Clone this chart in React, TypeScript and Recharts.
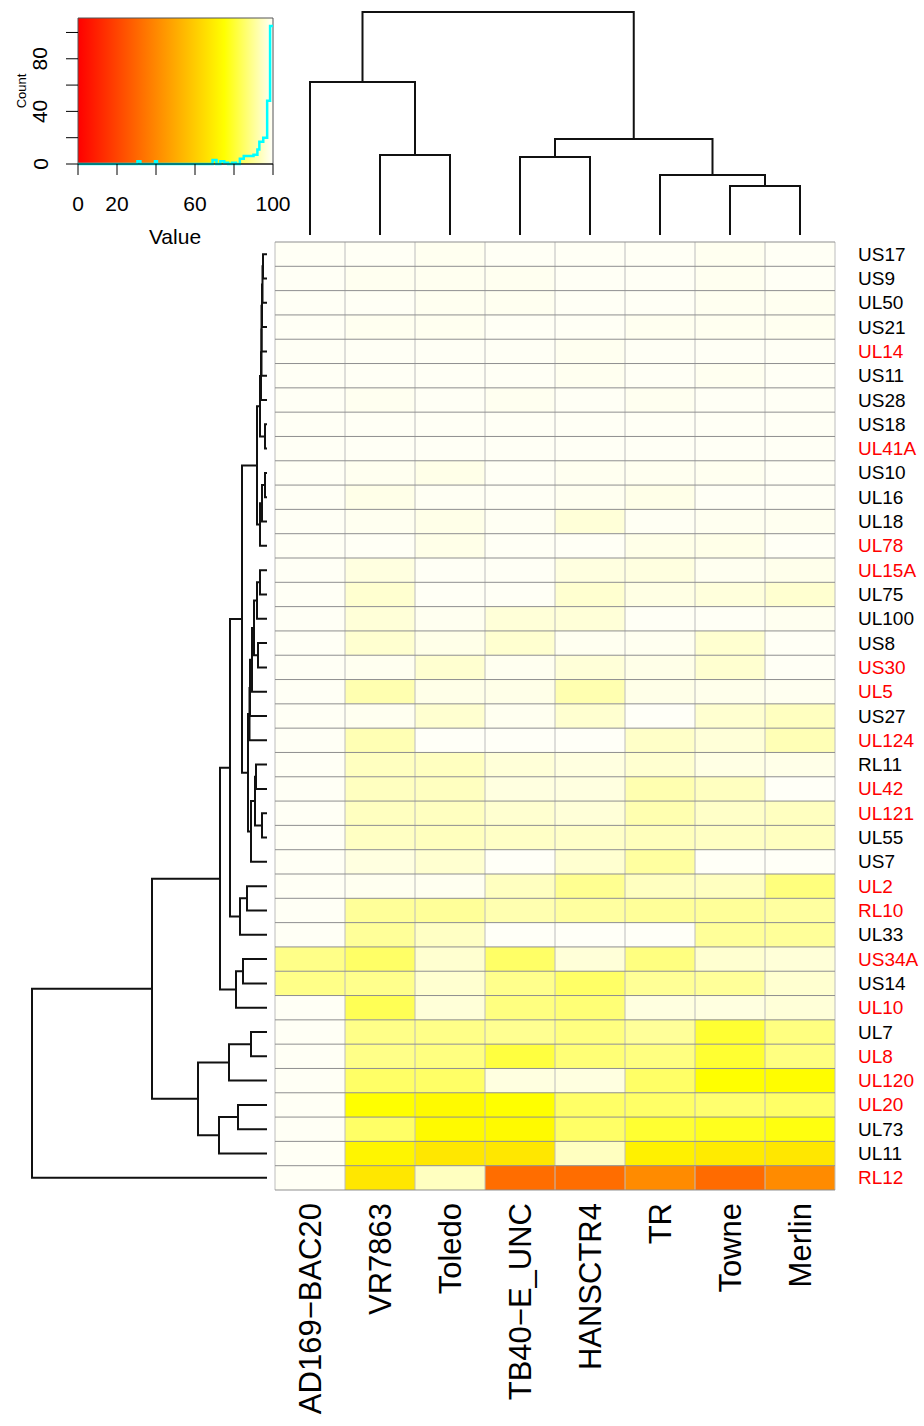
import React from 'react'
import { LineChart, ComposedChart, Line, Scatter, XAxis, YAxis, ReferenceArea, ReferenceLine, Label } from 'recharts'

const FONT = '"Liberation Sans", Arial, Helvetica, sans-serif'

// columns (strains), in dendrogram order
const colNames = ['AD169−BAC20', 'VR7863', 'Toledo', 'TB40−E_UNC', 'HANSCTR4', 'TR', 'Towne', 'Merlin']

// rows (genes), top to bottom
const rowNames = ['US17', 'US9', 'UL50', 'US21', 'UL14', 'US11', 'US28', 'US18', 'UL41A', 'US10', 'UL16', 'UL18', 'UL78',
  'UL15A', 'UL75', 'UL100', 'US8', 'US30', 'UL5', 'US27', 'UL124', 'RL11', 'UL42', 'UL121', 'UL55', 'US7',
  'UL2', 'RL10', 'UL33', 'US34A', 'US14', 'UL10', 'UL7', 'UL8', 'UL120', 'UL20', 'UL73', 'UL11', 'RL12']
const rowRed = [0, 0, 0, 0, 1, 0, 0, 0, 1, 0, 0, 0, 1, 1, 0, 0, 0, 1, 1, 0, 1, 0, 1, 1, 0, 0, 1, 1, 0, 1, 0, 1, 0, 1, 1, 1, 0, 0, 1]

// cell values per strain (0-100), one per row
const ad169 = [99.5, 99.5, 99.5, 99.5, 99.5, 99.5, 99.5, 99.5, 99.5, 99.5, 99.5, 99.5, 99.5, 99.5, 99.5, 99.5, 99.5, 99.5, 99.5, 99.5,
  99.5, 99.5, 99.5, 99.5, 99.5, 99.5, 99.5, 99.5, 99.5, 88.6, 88.6, 99.5, 99.5, 99.5, 99.5, 99.5, 99.5, 99.5, 99.5]
const vr7863 = [99.5, 99, 99.5, 99, 99.5, 99.5, 99, 99.5, 99.5, 99, 98.2, 99, 99.5, 97.4, 95.8, 96.6, 95.8, 99, 92.6, 99,
  93, 94.2, 94.2, 94.2, 94.5, 97.4, 99, 90.3, 90.3, 85.2, 89, 83.5, 88.6, 88.6, 85.2, 75, 85.2, 72, 68]
const toledo = [99, 99, 99, 99, 99.5, 99.5, 99.5, 99.5, 99.5, 98.2, 99.3, 98.2, 98.2, 99.5, 99.5, 99, 98.2, 95.8, 98.2, 95.8,
  99.7, 94.2, 94.2, 94.2, 94, 95.8, 99, 90.3, 94.6, 95.8, 95.8, 96.6, 88.6, 87.8, 85.2, 73.5, 73.5, 68, 94.2]
const tb40 = [99.5, 99, 99, 99.5, 99.5, 99.5, 99, 99.5, 99.5, 99.5, 99.5, 99.3, 99.5, 99.5, 99.5, 96.6, 95.8, 99, 98.2, 99,
  99.7, 96.6, 97.4, 95.8, 94.8, 99.7, 94.2, 92.6, 99.7, 85.2, 89, 87.8, 89.5, 81.4, 97.4, 75, 73.5, 68, 32]
const hansctr4 = [99.5, 99.5, 99.5, 99.5, 99, 99, 99.5, 99.5, 99.5, 99, 99, 96.6, 99.5, 97.4, 95.8, 96.6, 99, 96.6, 92.6, 95.8,
  99.7, 97.4, 97.4, 96.6, 95, 95.8, 89.5, 91, 99.7, 96.6, 85.2, 86.8, 87.8, 86.8, 97.4, 85.2, 85.2, 94.2, 32]
const tr = [99.5, 99.5, 99.5, 99, 99.5, 99.5, 99, 99.5, 99.5, 99, 98.2, 99.3, 98.2, 97.4, 97.8, 99.5, 99, 98.2, 98.2, 99.7,
  95, 95.8, 92.6, 92.6, 93.8, 91, 94.2, 90.3, 99.7, 87.8, 90, 97.4, 90.3, 87.8, 85.2, 85.2, 80, 71, 41]
const towne = [99, 99, 99, 99, 99.5, 99, 99.5, 99.5, 99.5, 99, 99.5, 99, 98.2, 99, 97, 99.5, 95.8, 95.8, 98.5, 95.8,
  96.6, 97.8, 94.2, 95, 94.5, 99.7, 94.2, 90.3, 90.3, 95.8, 90.3, 97.4, 80, 80, 75, 86, 78, 69, 31.5]
const merlin = [99.5, 99.5, 99, 99, 99.5, 99.5, 99.5, 99.5, 99.5, 99.5, 99.5, 99, 99.5, 98.5, 95.8, 99, 99.5, 99.5, 99, 94.2,
  93.2, 98.2, 99.7, 94.2, 94.2, 99.7, 87.5, 91, 90.3, 96.6, 95.8, 96.6, 87.8, 87.8, 74.5, 85.2, 76.5, 68, 41]
const colValues = [ad169, vr7863, toledo, tb40, hansctr4, tr, towne, merlin]

// column dendrogram (hclust style: negative = leaf, positive = earlier merge)
const colTreeLeft = [-2, -1, -4, -7, -6, 3, 2]
const colTreeRight = [-3, 1, -5, -8, 4, 5, 6]
const colTreeHeight = [8.0, 15.3, 7.8, 4.9, 6.0, 9.6, 22.3]

// row dendrogram
const rowTreeLeft = [-1, 1, 2, 3, 4, 5, -8, 6, -10, 9, 10, 8, -14, 13, -17, 14, 16, 17, 18, -22, -24, 20, 22, 19, 12,
  -27, 26, 25, -30, 29, 28, -33, 32, -36, 34, 33, 31, 37]
const rowTreeRight = [-2, -3, -4, -5, -6, -7, -9, 7, -11, -12, -13, 11, -15, -16, -18, 15, -19, -20, -21, -23, -25, 21, -26,
  23, 24, -28, -29, 27, -31, -32, 30, -34, -35, -37, -38, 35, 36, -39]
const rowTreeHeight = [0.4, 0.45, 0.5, 0.55, 0.55, 0.6, 0.2, 0.7, 0.2, 0.5, 0.7, 1.0, 0.7, 1.0, 0.9, 1.3, 1.5, 1.7, 1.75,
  1.1, 0.5, 1.2, 1.6, 1.9, 2.5, 2.0, 2.7, 3.7, 2.4, 3.1, 4.7, 1.6, 3.8, 2.9, 4.8, 6.9, 11.5, 23.5]

// color key histogram
const histX = [0, 30.5, 32, 39.5, 40.5, 69, 71, 73, 75, 77, 79, 81, 83, 85, 90, 92, 93, 95, 97, 98.5, 100]
const histCount = [0, 2, 0, 2, 0, 3, 0, 2, 1, 0, 1, 0, 4, 6, 7, 11, 17, 20, 48, 105, 105]

function heatColor(v: number) {
  if (v <= 75) return `rgb(255,${Math.round((255 * v) / 75)},0)`
  return `rgb(255,255,${Math.round((250 * (v - 75)) / 25)})`
}

// each merge -> polyline of 4 points (pos along leaves, height)
function dendro(left: number[], right: number[], height: number[]) {
  const pos: number[] = []
  const seg: { pos: number; h: number }[][] = []
  const get = (id: number) => (id < 0 ? { p: -id - 1, h: 0 } : { p: pos[id - 1], h: height[id - 1] })
  for (let k = 0; k < left.length; k++) {
    const a = get(left[k])
    const b = get(right[k])
    pos.push((a.p + b.p) / 2)
    seg.push([
      { pos: a.p, h: a.h },
      { pos: a.p, h: height[k] },
      { pos: b.p, h: height[k] },
      { pos: b.p, h: b.h },
    ])
  }
  return seg
}

const colSegs = dendro(colTreeLeft, colTreeRight, colTreeHeight)
const rowSegs = dendro(rowTreeLeft, rowTreeRight, rowTreeHeight)
const histData = histX.map((v, i) => ({ v, count: histCount[i] }))
const cellData = colValues.flatMap((vals, c) => vals.map((value, r) => ({ c, r, value })))

const KeyXTick = (props: any) => {
  const { x, payload } = props
  if (payload.value === 40 || payload.value === 80) return <g />
  return (
    <text x={x} y={203} textAnchor="middle" dominantBaseline="central" fontSize={21} fontFamily={FONT} fill="#000">
      {payload.value}
    </text>
  )
}

const KeyYTick = (props: any) => {
  const { y, payload } = props
  if (payload.value % 40 !== 0) return <g />
  return (
    <text x={40} y={y} transform={`rotate(-90 40 ${y})`} textAnchor="middle" dominantBaseline="central" fontSize={21} fontFamily={FONT} fill="#000">
      {payload.value}
    </text>
  )
}

const RowTick = (props: any) => {
  const { y, payload } = props
  const i = payload.value
  return (
    <text x={588} y={y} dominantBaseline="central" fontSize={19} fontFamily={FONT} fill={rowRed[i] ? '#ff0000' : '#000'}>
      {rowNames[i]}
    </text>
  )
}

const ColTick = (props: any) => {
  const { x, payload } = props
  return (
    <text x={x} y={966} transform={`rotate(-90 ${x} 966)`} textAnchor="end" dominantBaseline="central" fontSize={31} fontFamily={FONT} fill="#000">
      {colNames[payload.value]}
    </text>
  )
}

function ColorKey() {
  return (
    <LineChart width={300} height={250} data={histData} margin={{ top: 18, right: 27, bottom: 16, left: 38 }}>
      <XAxis dataKey="v" type="number" domain={[0, 100]} ticks={[0, 20, 40, 60, 80, 100]} tickSize={11} height={70}
        stroke="#000" tick={<KeyXTick />} interval={0}>
        <Label content={() => (
          <text x={175} y={236} textAnchor="middle" dominantBaseline="central" fontSize={21} fontFamily={FONT} fill="#000">Value</text>
        )} />
      </XAxis>
      <YAxis type="number" domain={[0, 111]} ticks={[0, 20, 40, 60, 80, 100]} tickSize={12} width={40}
        stroke="#000" tick={<KeyYTick />} interval={0} axisLine={false}>
        <Label content={() => (
          <text x={21} y={91} transform="rotate(-90 21 91)" textAnchor="middle" dominantBaseline="central" fontSize={13} fontFamily={FONT} fill="#000">Count</text>
        )} />
      </YAxis>
      <ReferenceArea x1={0} x2={100} y1={0} y2={111} fill="url(#keyGrad)" fillOpacity={1} stroke="#555" strokeWidth={1} />
      <Line dataKey="count" type="stepAfter" stroke="#00ffff" strokeWidth={2.5} dot={false} isAnimationActive={false} />
    </LineChart>
  )
}

function ColDendro() {
  return (
    <LineChart width={580} height={245} margin={{ top: 12, right: 15, bottom: 10, left: 5 }}>
      <XAxis dataKey="pos" type="number" domain={[-0.5, 7.5]} hide />
      <YAxis type="number" domain={[0, 22.3]} hide />
      {colSegs.map((s, i) => (
        <Line key={i} data={s} dataKey="h" stroke="#111" strokeWidth={2} dot={false} isAnimationActive={false} />
      ))}
    </LineChart>
  )
}

function RowDendro() {
  return (
    <LineChart width={280} height={960} margin={{ top: 5, right: 13, bottom: 7, left: 32 }}>
      <XAxis dataKey="h" type="number" domain={[0, 23.5]} reversed hide />
      <YAxis type="number" domain={[-0.5, 38.5]} reversed hide />
      {rowSegs.map((s, i) => (
        <Line key={i} data={s} dataKey="pos" stroke="#111" strokeWidth={2} dot={false} isAnimationActive={false} />
      ))}
    </LineChart>
  )
}

function Heatmap() {
  const rows = rowNames.map((_, i) => i)
  const cols = colNames.map((_, i) => i)
  return (
    <ComposedChart width={654} height={1189} data={cellData} margin={{ top: 5, right: 9, bottom: 10, left: 5 }}>
      <XAxis type="number" dataKey="c" domain={[-0.5, 7.5]} ticks={cols} interval={0} height={226}
        axisLine={false} tickLine={false} tick={<ColTick />} allowDataOverflow />
      <YAxis type="number" dataKey="r" orientation="right" domain={[-0.5, 38.5]} reversed ticks={rows} interval={0} width={80}
        axisLine={false} tickLine={false} tick={<RowTick />} allowDataOverflow />
      {cellData.map((d) => (
        <ReferenceArea key={`${d.c}-${d.r}`} x1={d.c - 0.5} x2={d.c + 0.5} y1={d.r - 0.5} y2={d.r + 0.5}
          fill={heatColor(d.value)} fillOpacity={1} stroke="none" />
      ))}
      {[...cols, 8].map((c) => (
        <ReferenceLine key={`v${c}`} x={c - 0.5} stroke="#bdbdbd" strokeWidth={1} />
      ))}
      {[...rows, 39].map((r) => (
        <ReferenceLine key={`h${r}`} y={r - 0.5} stroke="#8f8f8f" strokeWidth={1} />
      ))}
      <Scatter dataKey="r" shape={() => <g />} isAnimationActive={false} />
    </ComposedChart>
  )
}

const keyStops = [0, 0.25, 0.5, 0.75, 0.85, 1]

export default function App() {
  return (
    <div style={{ position: 'absolute', left: 0, top: 0, width: 924, height: 1426, background: '#fff', fontFamily: FONT }}>
      <svg width={0} height={0} style={{ position: 'absolute' }}>
        <defs>
          <linearGradient id="keyGrad" x1="0" y1="0" x2="1" y2="0">
            {keyStops.map((o) => (
              <stop key={o} offset={o} stopColor={heatColor(o * 100)} />
            ))}
          </linearGradient>
        </defs>
      </svg>
      <div style={{ position: 'absolute', left: 0, top: 0 }}>
        <ColorKey />
      </div>
      <div style={{ position: 'absolute', left: 270, top: 0 }}>
        <ColDendro />
      </div>
      <div style={{ position: 'absolute', left: 0, top: 237 }}>
        <RowDendro />
      </div>
      <div style={{ position: 'absolute', left: 270, top: 237 }}>
        <Heatmap />
      </div>
    </div>
  )
}
